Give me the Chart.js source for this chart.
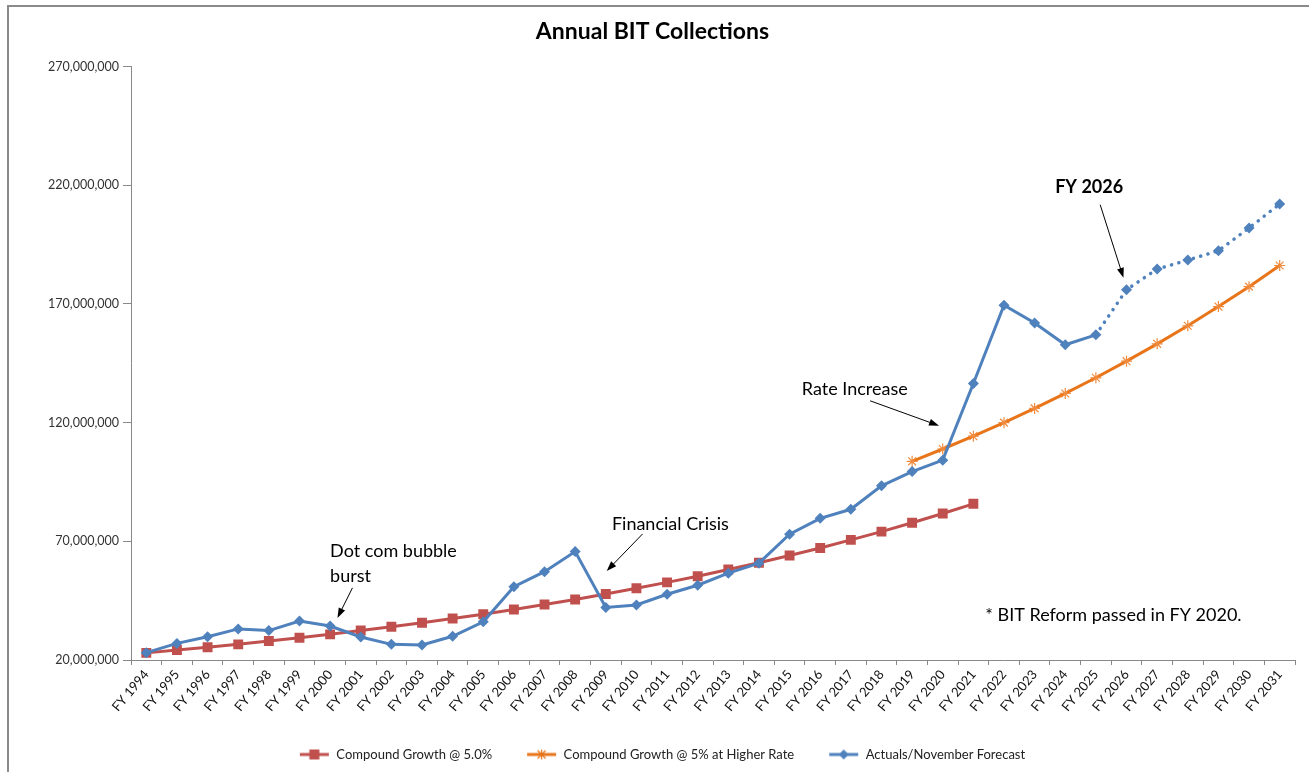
<!DOCTYPE html>
<html>
<head>
<meta charset="utf-8">
<script src="https://cdn.jsdelivr.net/npm/chart.js@4.4.1/dist/chart.umd.min.js"></script>
<style>
    html, body { margin: 0; padding: 0; background: #fff; }
    #contenedor { width: 1309px; height: 772px; position: relative; }
</style>
</head>
<body>
<div id="contenedor"><canvas id="graficoBit"></canvas></div>
<script>
const anios = ['FY 1994', 'FY 1995', 'FY 1996', 'FY 1997', 'FY 1998', 'FY 1999', 'FY 2000', 'FY 2001',
    'FY 2002', 'FY 2003', 'FY 2004', 'FY 2005', 'FY 2006', 'FY 2007', 'FY 2008', 'FY 2009', 'FY 2010',
    'FY 2011', 'FY 2012', 'FY 2013', 'FY 2014', 'FY 2015', 'FY 2016', 'FY 2017', 'FY 2018', 'FY 2019',
    'FY 2020', 'FY 2021', 'FY 2022', 'FY 2023', 'FY 2024', 'FY 2025', 'FY 2026', 'FY 2027', 'FY 2028',
    'FY 2029', 'FY 2030', 'FY 2031'];

// Compound Growth @ 5.0% (FY 1994 - FY 2021)
const crecimiento5 = [23000000, 24200000, 25400000, 26600000, 28000000, 29400000, 30800000, 32400000,
    34000000, 35700000, 37500000, 39300000, 41300000, 43400000, 45500000, 47800000, 50200000, 52700000,
    55300000, 58100000, 61000000, 64000000, 67200000, 70600000, 74100000, 77800000, 81700000, 85800000,
    null, null, null, null, null, null, null, null, null, null];

// Compound Growth @ 5% at Higher Rate (FY 2019 - FY 2031)
const crecimientoAlto = [null, null, null, null, null, null, null, null, null, null, null, null, null,
    null, null, null, null, null, null, null, null, null, null, null, null,
    103700000, 108900000, 114300000, 120000000, 126000000, 132300000, 138900000, 145900000, 153200000,
    160800000, 168900000, 177300000, 186200000];

// Actuals/November Forecast
const recaudacion = [23100000, 27000000, 29800000, 33100000, 32400000, 36400000, 34300000, 29700000,
    26600000, 26300000, 30000000, 36100000, 50900000, 57200000, 65700000, 42100000, 43200000, 47700000,
    51500000, 56600000, 60800000, 73000000, 79700000, 83500000, 93400000, 99400000, 104200000, 136500000,
    169500000, 162000000, 152800000, 157000000, 176000000, 184700000, 188500000, 192400000, 202000000,
    212100000];

const marcasY = [20000000, 70000000, 120000000, 170000000, 220000000, 270000000];

// primer punto de la parte punteada (FY 2025)
const inicioPronostico = 31;

const notas = [
    { texto: ['Dot com bubble', 'burst'], x: 6.0, y: 66000000, negrita: false, alinear: 'left' },
    { texto: ['Financial Crisis'], x: 15.2, y: 77300000, negrita: false, alinear: 'left' },
    { texto: ['Rate Increase'], x: 21.4, y: 134300000, negrita: false, alinear: 'left' },
    { texto: ['FY 2026'], x: 30.78, y: 219000000, negrita: true, alinear: 'center' },
    { texto: ['* BIT Reform passed in FY 2020.'], x: 27.39, y: 39000000, negrita: false, alinear: 'left' }
];

const flechas = [
    { desde: [6.73, 50400000], hasta: [6.24, 37700000] },
    { desde: [16.2, 73100000], hasta: [15.03, 57500000] },
    { desde: [23.63, 129200000], hasta: [25.88, 118700000] },
    { desde: [31.14, 211800000], hasta: [31.9, 181000000] }
];

Chart.defaults.font.family = 'Lato';

function crearIcono(color, forma) {
    const c = document.createElement('canvas');
    c.width = 50;
    c.height = 14;
    const g = c.getContext('2d');
    g.strokeStyle = color;
    g.fillStyle = color;
    g.lineWidth = 3;
    g.beginPath();
    g.moveTo(20, 7);
    g.lineTo(49, 7);
    g.stroke();
    const cx = 34.5, cy = 7;
    if (forma === 'cuadrado') {
        g.fillRect(cx - 5, cy - 5, 10, 10);
    } else if (forma === 'rombo') {
        g.beginPath();
        g.moveTo(cx - 5, cy);
        g.lineTo(cx, cy - 5);
        g.lineTo(cx + 5, cy);
        g.lineTo(cx, cy + 5);
        g.closePath();
        g.fill();
    } else {
        g.lineWidth = 1.2;
        g.beginPath();
        g.moveTo(cx - 4, cy - 4); g.lineTo(cx + 4, cy + 4);
        g.moveTo(cx + 4, cy - 4); g.lineTo(cx - 4, cy + 4);
        g.moveTo(cx, cy - 5); g.lineTo(cx, cy + 5);
        g.stroke();
    }
    return c;
}

const iconos = [
    crearIcono('#C0504D', 'cuadrado'),
    crearIcono('#E8751A', 'estrella'),
    crearIcono('#4F81BD', 'rombo')
];

const anotaciones = {
    id: 'anotaciones',
    beforeDraw(chart) {
        const ctx = chart.ctx;
        ctx.save();
        ctx.strokeStyle = '#8a8a8a';
        ctx.lineWidth = 2;
        ctx.beginPath();
        ctx.moveTo(8, chart.height);
        ctx.lineTo(8, 6);
        ctx.lineTo(chart.width, 6);
        ctx.stroke();
        ctx.restore();
    },
    afterDatasetsDraw(chart) {
        const { ctx, scales: { x, y } } = chart;
        ctx.save();
        ctx.fillStyle = '#000';
        ctx.strokeStyle = '#000';
        ctx.textBaseline = 'middle';
        notas.forEach(n => {
            ctx.font = (n.negrita ? 'bold ' : '') + '18px Lato';
            ctx.textAlign = n.alinear;
            n.texto.forEach((linea, i) => {
                ctx.fillText(linea, x.getPixelForValue(n.x), y.getPixelForValue(n.y) + i * 25);
            });
        });
        flechas.forEach(f => {
            const x0 = x.getPixelForValue(f.desde[0]);
            const y0 = y.getPixelForValue(f.desde[1]);
            const x1 = x.getPixelForValue(f.hasta[0]);
            const y1 = y.getPixelForValue(f.hasta[1]);
            const ang = Math.atan2(y1 - y0, x1 - x0);
            const cos = Math.cos(ang), sin = Math.sin(ang);
            ctx.lineWidth = 1;
            ctx.beginPath();
            ctx.moveTo(x0, y0);
            ctx.lineTo(x1 - 8 * cos, y1 - 8 * sin);
            ctx.stroke();
            ctx.beginPath();
            ctx.moveTo(x1, y1);
            ctx.lineTo(x1 - 10 * cos + 3.5 * sin, y1 - 10 * sin - 3.5 * cos);
            ctx.lineTo(x1 - 10 * cos - 3.5 * sin, y1 - 10 * sin + 3.5 * cos);
            ctx.closePath();
            ctx.fill();
        });
        ctx.restore();
    }
};

new Chart(document.getElementById('graficoBit'), {
    type: 'line',
    data: {
        labels: anios,
        datasets: [
            {
                label: 'Compound Growth @ 5.0%',
                data: crecimiento5,
                borderColor: '#C0504D',
                backgroundColor: '#C0504D',
                borderWidth: 3,
                pointStyle: 'rect',
                pointRadius: 7,
                pointBorderWidth: 0,
                order: 3
            },
            {
                label: 'Compound Growth @ 5% at Higher Rate',
                data: crecimientoAlto,
                borderColor: '#E8751A',
                backgroundColor: '#E8751A',
                borderWidth: 3,
                pointStyle: 'star',
                pointRadius: 5.5,
                pointBorderWidth: 1.2,
                pointBorderColor: '#F08A3C',
                order: 2
            },
            {
                label: 'Actuals/November Forecast',
                data: recaudacion,
                borderColor: '#4F81BD',
                backgroundColor: '#4F81BD',
                borderWidth: 3,
                pointStyle: 'rectRot',
                pointRadius: 5.5,
                pointBorderWidth: 0,
                order: 1,
                segment: {
                    borderDash: c => c.p0DataIndex >= inicioPronostico ? [0.1, 7.5] : undefined,
                    borderCapStyle: c => c.p0DataIndex >= inicioPronostico ? 'round' : 'butt',
                    borderWidth: c => c.p0DataIndex >= inicioPronostico ? 3.5 : 3
                }
            }
        ]
    },
    options: {
        responsive: true,
        maintainAspectRatio: false,
        animation: false,
        layout: { padding: { left: 10, right: 14, top: 0, bottom: 1 } },
        plugins: {
            title: {
                display: true,
                text: 'Annual BIT Collections',
                color: '#000',
                font: { size: 23, weight: 'bold' },
                padding: { top: 18, bottom: 21 }
            },
            legend: {
                position: 'bottom',
                labels: {
                    usePointStyle: true,
                    pointStyleWidth: 50,
                    boxHeight: 12,
                    padding: 15,
                    color: '#222',
                    font: { size: 13 },
                    generateLabels(chart) {
                        return chart.data.datasets.map((ds, i) => ({
                            text: ds.label,
                            pointStyle: iconos[i],
                            datasetIndex: i,
                            hidden: false,
                            lineWidth: 0,
                            strokeStyle: 'transparent',
                            fillStyle: 'transparent',
                            fontColor: '#222'
                        }));
                    }
                }
            },
            tooltip: { enabled: false }
        },
        scales: {
            x: {
                offset: true,
                grid: { offset: true, drawOnChartArea: false, tickLength: 5, color: '#888' },
                border: { color: '#888' },
                ticks: {
                    autoSkip: false,
                    minRotation: 50,
                    maxRotation: 50,
                    color: '#111',
                    padding: 2,
                    font: { size: 13 }
                },
                afterFit(escala) { escala.height = 73; }
            },
            y: {
                min: 20000000,
                max: 270000000,
                afterBuildTicks(escala) { escala.ticks = marcasY.map(v => ({ value: v })); },
                grid: { drawOnChartArea: false, tickLength: 8, color: '#888' },
                border: { color: '#888' },
                ticks: {
                    color: '#333',
                    padding: 4,
                    font: { size: 12.5 },
                    callback: v => v.toLocaleString('en-US')
                },
                afterFit(escala) { escala.width = 121; }
            }
        }
    },
    plugins: [anotaciones]
});
</script>
</body>
</html>
